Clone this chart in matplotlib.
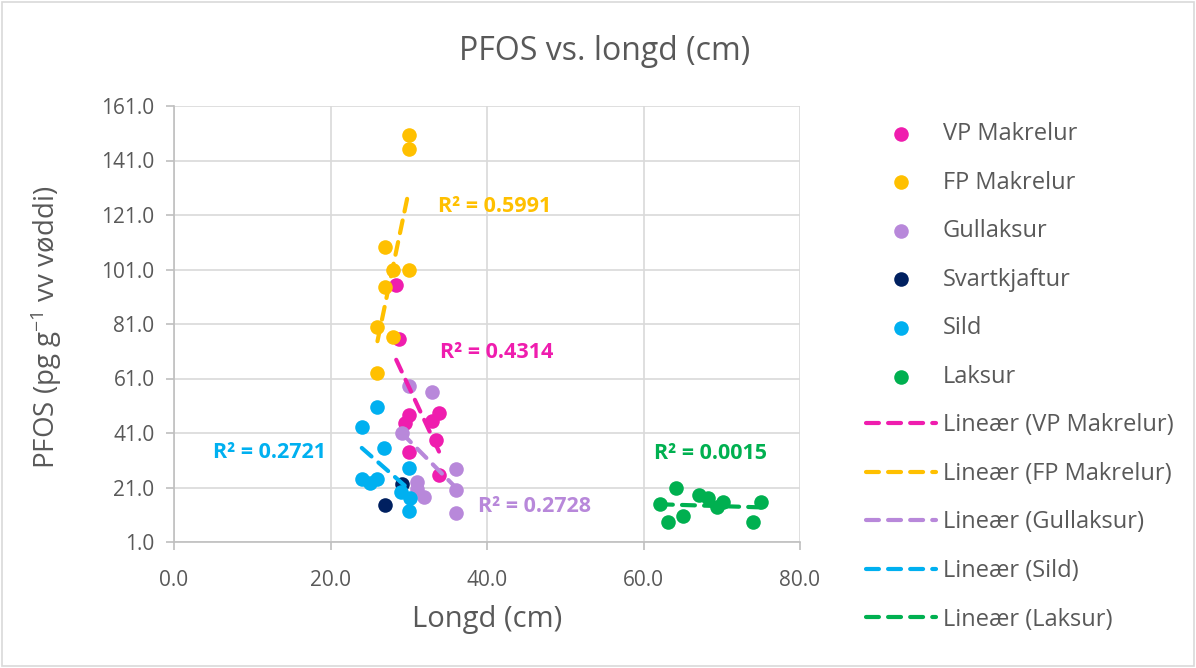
import numpy as np
import matplotlib
matplotlib.use("Agg")
import matplotlib.pyplot as plt
from matplotlib.patches import Rectangle

plt.rcParams['font.family'] = ['Open Sans', 'DejaVu Sans']
plt.rcParams['mathtext.fontset'] = 'custom'
plt.rcParams['mathtext.rm'] = 'Open Sans'
plt.rcParams['mathtext.it'] = 'Open Sans'
plt.rcParams['mathtext.bf'] = 'Open Sans:bold'

# data
vp_x = [28.4, 28.7, 30.0, 29.5, 33.9, 33.0, 33.5, 30.0, 33.9]
vp_y = [95.3, 75.5, 47.6, 44.7, 48.3, 45.5, 38.4, 34.0, 25.6]

fp_x = [30.0, 30.0, 27.0, 28.0, 30.0, 27.0, 26.0, 28.0, 26.0]
fp_y = [150.2, 145.4, 109.3, 100.8, 100.8, 94.6, 79.9, 76.2, 63.0]

gull_x = [30.0, 33.0, 29.1, 36.0, 31.0, 31.0, 32.0, 36.0, 36.0]
gull_y = [58.2, 56.0, 41.0, 27.8, 23.0, 20.5, 17.5, 20.1, 11.6]

svart_x = [29.1, 27.0]
svart_y = [22.3, 14.6]

sild_x = [26.0, 24.0, 26.9, 30.0, 24.0, 25.0, 26.0, 29.0, 30.1, 30.0]
sild_y = [50.5, 43.2, 35.5, 28.2, 24.1, 22.7, 24.1, 19.3, 17.1, 12.4]

laks_x = [62.1, 63.1, 64.2, 65.1, 67.1, 68.2, 70.1, 69.4, 75.0, 74.0]
laks_y = [15.0, 8.3, 20.8, 10.5, 18.2, 17.1, 15.7, 13.8, 15.7, 8.3]

names = ['VP Makrelur', 'FP Makrelur', 'Gullaksur', 'Svartkjaftur', 'Sild', 'Laksur']
colors = ['#EF1DAE', '#FFC000', '#B888DA', '#002060', '#00B0F0', '#00B050']
xs = [vp_x, fp_x, gull_x, svart_x, sild_x, laks_x]
ys = [vp_y, fp_y, gull_y, svart_y, sild_y, laks_y]

# series that get a linear trendline, with R² text as shown
trend_series = [0, 1, 2, 4, 5]
r2_labels = ['R² = 0.4314', 'R² = 0.5991', 'R² = 0.2728', 'R² = 0.2721', 'R² = 0.0015']
r2_pos = [(34.0, 70.7), (33.7, 124.3), (38.8, 14.2), (5.0, 33.7), (61.4, 33.3)]

xticks = [0, 20, 40, 60, 80]
yticks = [1, 21, 41, 61, 81, 101, 121, 141, 161]

fig = plt.figure(figsize=(11.96, 6.68), dpi=100)
ax = fig.add_axes([174 / 1196, 1 - 542 / 668, 626 / 1196, 436 / 668])

handles = []
for i in range(6):
    h = ax.scatter(xs[i], ys[i], s=110, color=colors[i], zorder=3 + i * 0.1,
                   linewidths=0, label=names[i])
    handles.append(h)

for k, i in enumerate(trend_series):
    x = np.array(xs[i])
    y = np.array(ys[i])
    a, b = np.polyfit(x, y, 1)
    xx = np.array([x.min(), x.max()])
    ln, = ax.plot(xx, a * xx + b, color=colors[i], lw=3, dashes=(3.1, 2.2),
                  dash_capstyle='round', zorder=5, label='Lineær (%s)' % names[i])
    handles.append(ln)
    ax.text(r2_pos[k][0], r2_pos[k][1], r2_labels[k], color=colors[i],
            fontsize=15.5, fontweight='bold', ha='left', va='center', zorder=6)

ax.set_xlim(0, 80)
ax.set_ylim(1, 161)
ax.set_xticks(xticks)
ax.set_yticks(yticks)
ax.set_xticklabels(['%.1f' % v for v in xticks])
ax.set_yticklabels(['%.1f' % v for v in yticks])
ax.grid(True, color='#D9D9D9', lw=1.2)
ax.set_axisbelow(True)
for s in ['top', 'right']:
    ax.spines[s].set_visible(False)
for s in ['left', 'bottom']:
    ax.spines[s].set_color('#BFBFBF')
    ax.spines[s].set_linewidth(1.2)
ax.tick_params(colors='#BFBFBF', labelcolor='#595959', labelsize=15,
               length=6, width=1.2, pad=8)
ax.tick_params(axis='x', pad=14)

ax.set_xlabel('Longd (cm)', fontsize=21, color='#595959')
ax.set_ylabel(r'PFOS (pg g$^{-1}$ vv vøddi)', fontsize=20, color='#595959')
ax.xaxis.set_label_coords(0.5, -0.145)
ax.yaxis.set_label_coords(-0.175, 0.493)
fig.text(605 / 1196, 1 - 52 / 668, 'PFOS vs. longd (cm)', fontsize=23,
         color='#595959', ha='center', va='center')

fig.legend(handles=handles, loc='upper left', bbox_to_anchor=(866 / 1196, 1 - 122 / 668),
           frameon=False, fontsize=17, labelcolor='#595959', handlelength=2.95,
           handletextpad=0.3, labelspacing=1.04, borderpad=0, borderaxespad=0,
           scatterpoints=1)

# thin frame round the whole chart
fig.patches.append(Rectangle((0.002, 0.003), 0.996, 0.994, transform=fig.transFigure,
                             fill=False, edgecolor='#D9D9D9', lw=1.2))

fig.savefig('out.png', dpi=100)
